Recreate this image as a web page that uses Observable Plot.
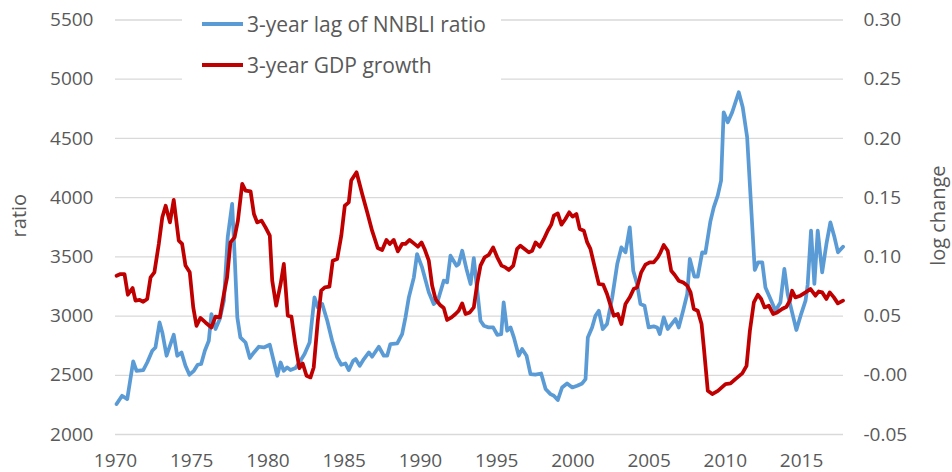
<!DOCTYPE html>
<html>
<head>
<meta charset="utf-8">
<script src="https://cdn.jsdelivr.net/npm/d3@7"></script>
<script src="https://cdn.jsdelivr.net/npm/@observablehq/plot@0.6"></script>
<style>
  html, body { margin: 0; padding: 0; background: #fff; }
  #wrap { position: relative; width: 952px; height: 472px; }
  #legend { position: absolute; left: 182px; top: 2px; width: 319px; height: 88px; background: #fff;
            font-family: "Open Sans", sans-serif; font-size: 21px; color: #595959; }
  .row { position: absolute; left: 0; width: 319px; height: 24px; }
  .sw { position: absolute; left: 20px; top: 10px; width: 41px; height: 4px; }
  .lbl { position: absolute; left: 65px; top: 0; white-space: nowrap; line-height: 24px; }
</style>
</head>
<body>
<div id="wrap"></div>
<script>
const blueYears = [1970.07,1970.43,1970.77,1971.16,1971.38,1971.82,1972.08,1972.41,1972.62,1972.89,
1973.07,1973.35,1973.61,1973.82,1974.05,1974.33,1974.59,1974.85,1975.14,1975.39,
1975.62,1975.86,1976.12,1976.29,1976.56,1976.84,1977.11,1977.36,1977.65,1977.81,
1977.99,1978.19,1978.53,1978.81,1979.08,1979.40,1979.73,1980.12,1980.61,1980.83,
1981.03,1981.26,1981.48,1981.81,1982.13,1982.40,1982.73,1983.05,1983.27,1983.56,
1983.89,1984.21,1984.54,1984.81,1985.08,1985.30,1985.59,1985.75,1986.02,1986.29,
1986.62,1986.83,1987.27,1987.60,1987.82,1988.03,1988.48,1988.80,1989.02,1989.24,
1989.57,1989.78,1990.11,1990.55,1990.87,1991.14,1991.53,1991.75,1991.97,1992.37,
1992.51,1992.74,1993.02,1993.29,1993.50,1993.94,1994.16,1994.48,1994.77,1995.04,
1995.30,1995.46,1995.69,1995.91,1996.13,1996.45,1996.67,1996.96,1997.22,1997.54,
1997.92,1998.21,1998.53,1998.75,1999.01,1999.29,1999.62,1999.96,2000.28,2000.61,
2000.83,2000.98,2001.26,2001.48,2001.70,2001.96,2002.24,2002.58,2002.91,2003.18,
2003.45,2003.73,2003.96,2004.21,2004.43,2004.70,2004.97,2005.30,2005.53,2005.70,
2005.96,2006.22,2006.51,2006.73,2006.94,2007.23,2007.50,2007.67,2007.97,2008.19,
2008.48,2008.69,2009.02,2009.24,2009.50,2009.72,2009.89,2010.16,2010.45,2010.88,
2011.14,2011.43,2011.93,2012.15,2012.42,2012.63,2012.91,2013.29,2013.61,2013.87,
2014.09,2014.38,2014.66,2014.97,2015.26,2015.40,2015.62,2015.84,2016.06,2016.35,
2016.63,2016.89,2017.16,2017.39,2017.72];
const blueValues = [2257,2327,2299,2617,2538,2544,2608,2707,2735,2946,
2862,2665,2764,2842,2665,2693,2580,2505,2538,2589,
2595,2707,2792,3017,2891,2975,3130,3665,3947,3524,
2989,2820,2777,2646,2693,2741,2735,2758,2496,2608,
2538,2566,2544,2561,2623,2679,2777,3158,3073,3102,
2961,2792,2651,2589,2600,2544,2623,2637,2580,2637,
2693,2657,2741,2665,2665,2764,2769,2848,2989,3158,
3327,3524,3411,3200,3102,3130,3299,3285,3510,3425,
3440,3552,3398,3271,3490,2961,2919,2904,2904,2842,
2848,3115,2876,2904,2820,2665,2722,2665,2510,2505,
2515,2384,2341,2327,2291,2397,2431,2397,2412,2431,
2468,2820,2904,3003,3045,2891,2933,3158,3440,3580,
3538,3749,3383,3271,3102,3087,2904,2913,2904,2848,
2989,2891,2938,2975,2904,3045,3186,3482,3333,3333,
3538,3533,3800,3918,4017,4144,4721,4636,4721,4890,
4763,4510,3389,3454,3454,3242,3158,3045,3115,3398,
3186,3031,2882,3017,3130,3265,3721,3271,3721,3369,
3609,3791,3665,3538,3586];

const redYears = [1970.07,1970.33,1970.59,1970.81,1971.12,1971.31,1971.59,1971.82,1972.08,1972.30,
1972.55,1972.84,1973.07,1973.29,1973.57,1973.82,1974.15,1974.37,1974.59,1974.87,
1975.10,1975.31,1975.57,1975.90,1976.29,1976.56,1976.84,1977.11,1977.32,1977.54,
1977.81,1978.03,1978.31,1978.53,1978.86,1979.08,1979.29,1979.58,1979.84,1980.12,
1980.28,1980.54,1980.83,1981.04,1981.30,1981.54,1981.81,1982.06,1982.28,1982.53,
1982.79,1983.00,1983.27,1983.49,1983.73,1984.03,1984.25,1984.54,1984.81,1985.04,
1985.30,1985.46,1985.81,1986.18,1986.51,1986.83,1987.20,1987.49,1987.77,1987.99,
1988.25,1988.52,1988.80,1989.02,1989.29,1989.57,1989.83,1990.07,1990.27,1990.55,
1990.77,1990.99,1991.27,1991.53,1991.75,1992.04,1992.30,1992.51,1992.74,1992.96,
1993.24,1993.50,1993.72,1993.94,1994.21,1994.48,1994.77,1995.04,1995.32,1995.58,
1995.80,1996.09,1996.34,1996.56,1996.83,1997.11,1997.33,1997.55,1997.83,1998.10,
1998.35,1998.58,1998.75,1999.01,1999.25,1999.51,1999.76,1999.98,2000.23,2000.45,
2000.72,2000.94,2001.15,2001.41,2001.70,2001.99,2002.24,2002.51,2002.68,2002.95,
2003.18,2003.45,2003.73,2003.99,2004.21,2004.48,2004.76,2005.04,2005.30,2005.57,
2005.75,2005.96,2006.22,2006.45,2006.67,2006.94,2007.24,2007.50,2007.72,2007.93,
2008.19,2008.44,2008.59,2008.85,2009.14,2009.51,2010.01,2010.34,2010.66,2011.11,
2011.39,2011.61,2011.87,2012.13,2012.35,2012.57,2012.85,2013.14,2013.40,2013.72,
2014.01,2014.23,2014.38,2014.59,2014.92,2015.26,2015.58,2015.91,2016.13,2016.35,
2016.63,2016.85,2017.12,2017.38,2017.72];
const redValues = [0.084,0.0855,0.0855,0.068,0.0737,0.063,0.0636,0.0621,0.0644,0.0827,
0.0869,0.1109,0.1334,0.1432,0.1291,0.1481,0.1137,0.1109,0.0926,0.0869,
0.0573,0.0418,0.0484,0.0446,0.0404,0.0495,0.0489,0.0686,0.0827,0.1122,
0.1165,0.1306,0.1616,0.1559,0.1553,0.1362,0.1291,0.1306,0.1249,0.1179,
0.0799,0.0588,0.0771,0.094,0.0503,0.0495,0.025,0.0061,0.01,-0.0004,
-0.0018,0.0066,0.0461,0.0714,0.0742,0.0748,0.0968,0.0982,0.1179,0.1432,
0.146,0.1644,0.1714,0.1531,0.1376,0.1221,0.1075,0.1058,0.1143,0.1109,
0.1143,0.1046,0.1109,0.1109,0.1143,0.1114,0.1086,0.1122,0.1067,0.0968,
0.0757,0.0644,0.0596,0.0568,0.0467,0.0489,0.0517,0.0545,0.0607,0.0517,
0.0531,0.0573,0.0771,0.0926,0.0996,0.1016,0.108,0.0996,0.0926,0.0911,
0.0889,0.0926,0.1067,0.1094,0.1067,0.1038,0.1052,0.1122,0.1086,0.1151,
0.1221,0.1272,0.1348,0.1367,0.1272,0.132,0.1376,0.134,0.1362,0.1236,
0.1221,0.1122,0.1067,0.0926,0.0771,0.0765,0.0686,0.0573,0.0503,0.0517,
0.0433,0.0602,0.0658,0.0729,0.0742,0.0869,0.0934,0.0953,0.0953,0.0996,
0.1038,0.11,0.1052,0.0883,0.0849,0.0799,0.0784,0.0757,0.07,0.056,
0.0545,0.0433,0.0235,-0.0131,-0.0159,-0.0131,-0.0074,-0.0069,-0.0032,0.0016,
0.008,0.0376,0.0615,0.068,0.0644,0.0573,0.0588,0.0517,0.0531,0.056,
0.0579,0.063,0.0714,0.0658,0.0672,0.07,0.0729,0.0672,0.0708,0.07,
0.0644,0.07,0.0658,0.0607,0.063];

const seriesNames = ["3-year lag of NNBLI ratio", "3-year GDP growth"];
const seriesColors = ["#5b9bd5", "#c00000"];
const leftTicks = [2000, 2500, 3000, 3500, 4000, 4500, 5000, 5500];
const rightTicks = [-0.05, 0.00, 0.05, 0.10, 0.15, 0.20, 0.25, 0.30];
const xTicks = [1970, 1975, 1980, 1985, 1990, 1995, 2000, 2005, 2010, 2015];
const leftTitle = "ratio";
const rightTitle = "log change";

// map right-axis values onto the left scale
const leftMin = 2000, leftMax = 5500, rightMin = -0.05, rightMax = 0.30;
const toLeft = v => leftMin + (v - rightMin) / (rightMax - rightMin) * (leftMax - leftMin);
const fromLeft = d => rightMin + (d - leftMin) / (leftMax - leftMin) * (rightMax - rightMin);

const blue = blueYears.map((t, i) => ({t, v: blueValues[i]}));
const red = redYears.map((t, i) => ({t, v: toLeft(redValues[i])}));

const chart = Plot.plot({
  width: 952,
  height: 472,
  marginLeft: 115,
  marginRight: 109,
  marginTop: 19.5,
  marginBottom: 38,
  style: {fontFamily: "'Open Sans', sans-serif", fontSize: "19px", color: "#595959", background: "#fff"},
  x: {domain: [1970, 2017.75]},
  y: {domain: [leftMin, leftMax]},
  marks: [
    Plot.ruleY(leftTicks, {stroke: "#d9d9d9", strokeWidth: 1.3}),
    Plot.axisY(leftTicks, {anchor: "left", tickSize: 0, tickPadding: 22, label: null, tickFormat: d => String(d)}),
    Plot.axisY(rightTicks.map(toLeft), {anchor: "right", tickSize: 0, tickPadding: 20, label: null,
      tickFormat: d => fromLeft(d).toFixed(2)}),
    Plot.axisX(xTicks, {anchor: "bottom", tickSize: 0, tickPadding: 18.5, label: null, tickFormat: d => String(d)}),
    Plot.text([leftTitle], {frameAnchor: "left", dx: -96, dy: -11.6, rotate: -90, fontSize: 20, fill: "#595959",
      textAnchor: "middle", lineAnchor: "middle"}),
    Plot.text([rightTitle], {frameAnchor: "right", dx: 95, dy: -11.6, rotate: -90, fontSize: 20, fill: "#595959",
      textAnchor: "middle", lineAnchor: "middle"}),
    Plot.line(blue, {x: "t", y: "v", stroke: seriesColors[0], strokeWidth: 3.75, strokeLinejoin: "round", strokeLinecap: "round"}),
    Plot.line(red, {x: "t", y: "v", stroke: seriesColors[1], strokeWidth: 3.75, strokeLinejoin: "round", strokeLinecap: "round"})
  ]
});

const wrap = document.getElementById("wrap");
wrap.appendChild(chart);

const legend = document.createElement("div");
legend.id = "legend";
const rowTops = [10, 51];
seriesNames.forEach((name, i) => {
  const row = document.createElement("div");
  row.className = "row";
  row.style.top = rowTops[i] + "px";
  const sw = document.createElement("div");
  sw.className = "sw";
  sw.style.background = seriesColors[i];
  const lbl = document.createElement("div");
  lbl.className = "lbl";
  lbl.textContent = name;
  row.appendChild(sw);
  row.appendChild(lbl);
  legend.appendChild(row);
});
wrap.appendChild(legend);
</script>
</body>
</html>
